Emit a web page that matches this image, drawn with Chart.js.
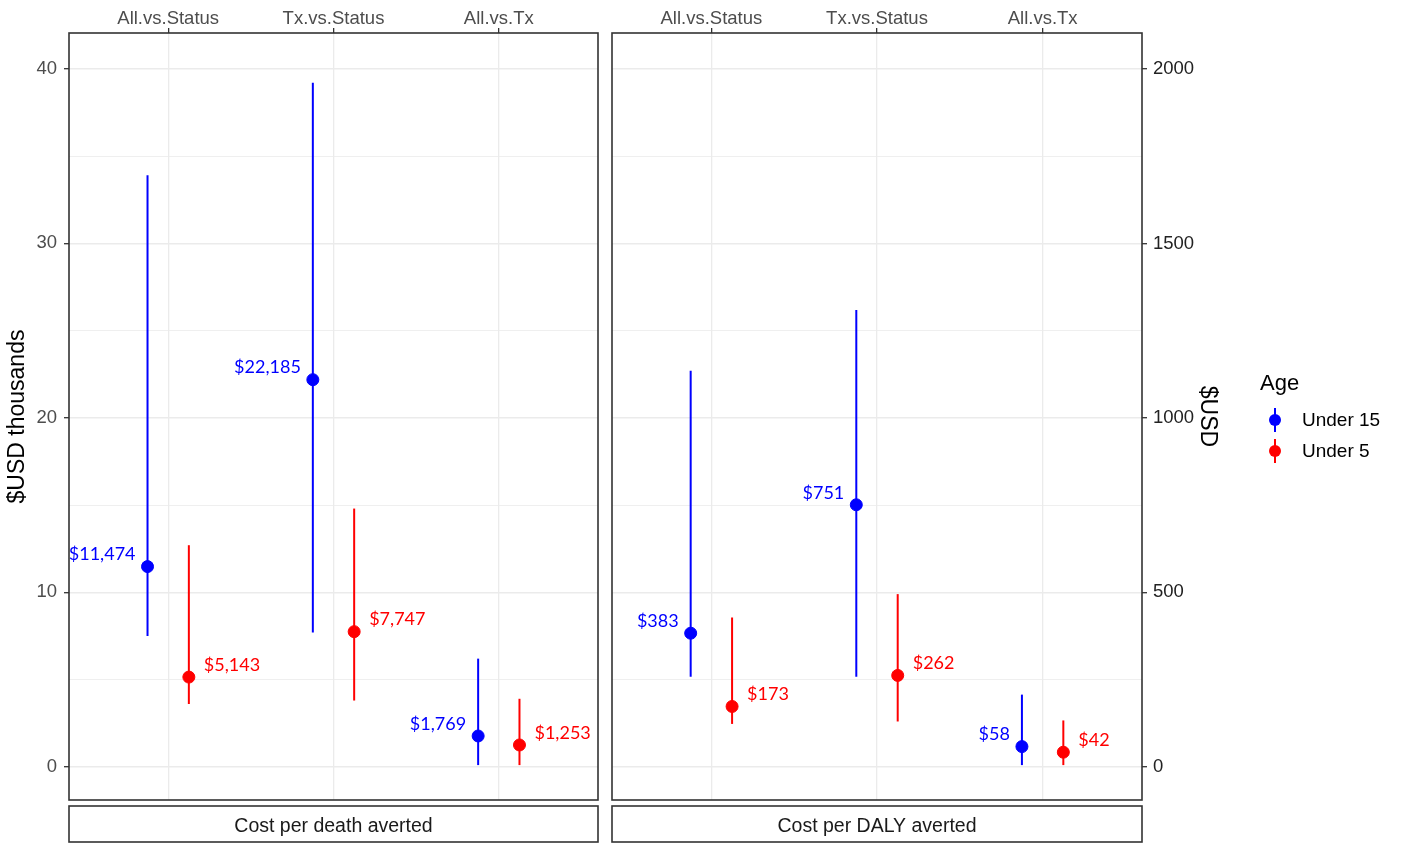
<!DOCTYPE html>
<html>
<head>
<meta charset="utf-8">
<script src="https://cdn.jsdelivr.net/npm/chart.js@4.4.1/dist/chart.umd.min.js"></script>
<style>
  body { margin: 0; background: #fff; }
  #wrap { position: relative; width: 1401px; height: 843px; }
  canvas { position: absolute; top: 0; }
  #deathChart { left: 0; }
  #dalyChart { left: 605px; }
</style>
</head>
<body>
<div id="wrap">
  <canvas id="deathChart" width="605" height="843"></canvas>
  <canvas id="dalyChart" width="796" height="843"></canvas>
</div>
<script>
const categories = ['All.vs.Status', 'Tx.vs.Status', 'All.vs.Tx'];
const ageGroups = ['Under 15', 'Under 5'];
const ageColors = ['#0000ff', '#ff0000'];

// Cost per death averted ($USD thousands)
const deathU15 = [11.474, 22.185, 1.769];
const deathU15Low = [7.5, 7.7, 0.1];
const deathU15High = [33.9, 39.2, 6.2];
const deathU5 = [5.143, 7.747, 1.253];
const deathU5Low = [3.6, 3.8, 0.1];
const deathU5High = [12.7, 14.8, 3.9];

// Cost per DALY averted ($USD)
const dalyU15 = [383, 751, 58];
const dalyU15Low = [258, 258, 5];
const dalyU15High = [1135, 1309, 207];
const dalyU5 = [173, 262, 42];
const dalyU5Low = [123, 130, 5];
const dalyU5High = [428, 495, 133];

const deathTicks = [0, 10, 20, 30, 40];
const dalyTicks = [0, 500, 1000, 1500, 2000];

const dodge = 0.125;
Chart.defaults.font.family = '"Liberation Sans", Arial, sans-serif';

// vertical interval lines behind the points
const errorBars = {
  id: 'errorBars',
  beforeDatasetsDraw(chart) {
    const ctx = chart.ctx;
    const y = chart.scales.y;
    chart.data.datasets.forEach((ds, d) => {
      const meta = chart.getDatasetMeta(d);
      ctx.save();
      ctx.strokeStyle = ds.borderColor;
      ctx.lineWidth = 2;
      meta.data.forEach((pt, i) => {
        ctx.beginPath();
        ctx.moveTo(pt.x, y.getPixelForValue(ds.low[i]));
        ctx.lineTo(pt.x, y.getPixelForValue(ds.high[i]));
        ctx.stroke();
      });
      ctx.restore();
    });
  }
};

// "$11,474" style labels next to the points
const valueLabels = {
  id: 'valueLabels',
  afterDatasetsDraw(chart, args, opts) {
    const ctx = chart.ctx;
    chart.data.datasets.forEach((ds, d) => {
      const meta = chart.getDatasetMeta(d);
      const onLeft = d === 0;
      ctx.save();
      ctx.font = '18px Lato';
      ctx.fillStyle = ds.borderColor;
      ctx.textBaseline = 'middle';
      ctx.textAlign = onLeft ? 'right' : 'left';
      meta.data.forEach((pt, i) => {
        const v = Math.round(ds.data[i].y * opts.mult);
        ctx.fillText('$' + v.toLocaleString('en-US'), pt.x + (onLeft ? -12 : 15), pt.y - 12);
      });
      ctx.restore();
    });
  }
};

// panel frame and facet strip below it
const panelFrame = {
  id: 'panelFrame',
  afterDraw(chart, args, opts) {
    const ctx = chart.ctx;
    const { left, right, top, bottom } = chart.chartArea;
    ctx.save();
    ctx.strokeStyle = '#333';
    ctx.lineWidth = 1.6;
    ctx.strokeRect(left, top, right - left, bottom - top);
    const sTop = bottom + 6, sH = chart.height - sTop - 1;
    ctx.fillStyle = '#fff';
    ctx.fillRect(left, sTop, right - left, sH);
    ctx.strokeRect(left, sTop, right - left, sH);
    ctx.fillStyle = '#1a1a1a';
    ctx.font = '19.5px "Liberation Sans", Arial';
    ctx.textAlign = 'center';
    ctx.textBaseline = 'middle';
    ctx.fillText(opts.text, (left + right) / 2, sTop + sH / 2 + 3);
    ctx.restore();
  }
};

// legend drawn like ggplot's pointrange key
const ageLegend = {
  id: 'ageLegend',
  afterDraw(chart) {
    const ctx = chart.ctx;
    const x0 = chart.chartArea.right + 118;
    ctx.save();
    ctx.fillStyle = '#000';
    ctx.font = '22px "Liberation Sans", Arial';
    ctx.textBaseline = 'middle';
    ctx.fillText('Age', x0, 384);
    chart.data.datasets.forEach((ds, d) => {
      const cy = 420 + d * 31;
      ctx.strokeStyle = ds.borderColor;
      ctx.lineWidth = 2;
      ctx.beginPath();
      ctx.moveTo(x0 + 15, cy - 12);
      ctx.lineTo(x0 + 15, cy + 12);
      ctx.stroke();
      ctx.fillStyle = ds.borderColor;
      ctx.beginPath();
      ctx.arc(x0 + 15, cy, 6, 0, Math.PI * 2);
      ctx.fill();
      ctx.fillStyle = '#000';
      ctx.font = '19px "Liberation Sans", Arial';
      ctx.fillText(ds.label, x0 + 42, cy + 1);
    });
    ctx.restore();
  }
};

function makeDatasets(u15, u15Low, u15High, u5, u5Low, u5High) {
  return [
    { label: ageGroups[0], data: u15.map((v, i) => ({ x: i + 1 - dodge, y: v })), low: u15Low, high: u15High },
    { label: ageGroups[1], data: u5.map((v, i) => ({ x: i + 1 + dodge, y: v })), low: u5Low, high: u5High }
  ].map((ds, d) => Object.assign(ds, {
    borderColor: ageColors[d],
    backgroundColor: ageColors[d],
    pointRadius: 6,
    pointHoverRadius: 6
  }));
}

function xScale() {
  return {
    type: 'linear',
    position: 'top',
    min: 0.4,
    max: 3.6,
    afterBuildTicks: s => { s.ticks = categories.map((c, i) => ({ value: i + 1 })); },
    afterFit: s => { s.height = 33; },
    ticks: {
      callback: (v, i) => categories[i],
      color: '#4d4d4d',
      font: { size: 18.5 },
      padding: -2,
      maxRotation: 0,
      autoSkip: false
    },
    grid: { color: '#ebebeb', lineWidth: 1.3, tickColor: '#333', tickLength: 5 },
    border: { display: false }
  };
}

// major ticks plus the minor ones halfway between them
function withMinor(majors) {
  const out = [];
  majors.forEach((m, i) => {
    out.push({ value: m });
    if (i < majors.length - 1) out.push({ value: (m + majors[i + 1]) / 2 });
  });
  return out;
}

function yScale(pos, min, max, majors, title, width, tickColor, pad) {
  return {
    type: 'linear',
    position: pos,
    min: min,
    max: max,
    afterBuildTicks: s => { s.ticks = withMinor(majors); },
    afterFit: s => { s.width = width; },
    ticks: {
      callback: v => majors.includes(v) ? v : '',
      color: tickColor,
      font: { size: 18.5 },
      padding: pad
    },
    grid: {
      color: '#ebebeb',
      lineWidth: c => majors.includes(c.tick.value) ? 1.4 : 0.8,
      tickColor: c => majors.includes(c.tick.value) ? '#333' : 'rgba(0,0,0,0)',
      tickWidth: 1.3,
      tickLength: 5
    },
    border: { display: false },
    title: { display: true, text: title, color: '#000', font: { size: 23 } }
  };
}

function baseOptions(padding) {
  return {
    responsive: false,
    animation: false,
    layout: { padding: padding },
    plugins: { legend: { display: false }, tooltip: { enabled: false } }
  };
}

const deathOpts = baseOptions({ left: 0, right: 5, top: 0, bottom: 43 });
deathOpts.scales = {
  x: xScale(),
  y: yScale('left', -1.9, 42.05, deathTicks, '$USD thousands', 69, '#4d4d4d', 7)
};
deathOpts.plugins.valueLabels = { mult: 1000 };
deathOpts.plugins.panelFrame = { text: 'Cost per death averted' };

new Chart(document.getElementById('deathChart'), {
  type: 'scatter',
  data: { datasets: makeDatasets(deathU15, deathU15Low, deathU15High, deathU5, deathU5Low, deathU5High) },
  options: deathOpts,
  plugins: [errorBars, valueLabels, panelFrame]
});

const dalyOpts = baseOptions({ left: 6, right: 176, top: 0, bottom: 43 });
dalyOpts.scales = {
  x: xScale(),
  y: yScale('right', -95, 2103, dalyTicks, '$USD', 83, '#222', 6)
};
dalyOpts.plugins.valueLabels = { mult: 1 };
dalyOpts.plugins.panelFrame = { text: 'Cost per DALY averted' };

new Chart(document.getElementById('dalyChart'), {
  type: 'scatter',
  data: { datasets: makeDatasets(dalyU15, dalyU15Low, dalyU15High, dalyU5, dalyU5Low, dalyU5High) },
  options: dalyOpts,
  plugins: [errorBars, valueLabels, panelFrame, ageLegend]
});
</script>
</body>
</html>
